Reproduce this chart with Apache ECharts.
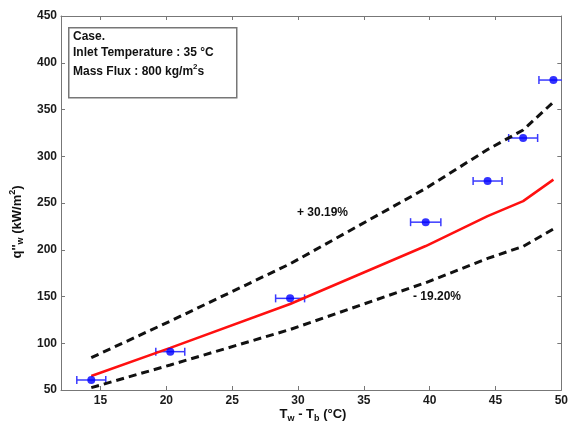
<!DOCTYPE html>
<html>
<head>
<meta charset="utf-8">
<script src="https://cdn.jsdelivr.net/npm/echarts@6/dist/echarts.min.js"></script>
<style>html,body{margin:0;padding:0;background:#fff;}#c{width:571px;height:423px;}</style>
</head>
<body>
<div id="c"></div>
<script>
// Data
const expX = [14.3, 20.3, 29.4, 39.7, 44.4, 47.1, 49.4];
const expY = [60.7, 91, 148, 229.5, 273.5, 319.5, 381.5];
const expErr = [1.1, 1.1, 1.1, 1.15, 1.1, 1.1, 1.1];
const predX = [14.3, 20.3, 29.4, 39.7, 44.4, 47.1, 49.4];
const predY = [65, 95, 142, 204, 236, 252, 275];
const upperY = [84.6, 123.7, 184.9, 265.6, 307.2, 328.1, 358.0];
const lowerY = [52.5, 76.8, 114.7, 164.8, 190.7, 203.6, 222.2];
const xTickValues = [15, 20, 25, 30, 35, 40, 45, 50];
const xRange = [12, 50];
const yTicks = {min: 50, max: 450, interval: 50};

const pairs = (xs, ys) => xs.map((x, i) => [x, ys[i]]);
const chart = echarts.init(document.getElementById('c'));
const font = 'Liberation Sans, Arial, sans-serif';
const labelStyle = {color: '#1a1a1a', fontWeight: 'bold', fontSize: 12, fontFamily: font};
const axisLine = {show: true, lineStyle: {color: '#777', width: 1}};
const tickIn = {show: true, inside: true, length: 4, lineStyle: {color: '#777'}};

chart.setOption({
  animation: false,
  backgroundColor: '#fff',
  grid: {left: 61, right: 5, top: 16, bottom: 33},
  xAxis: [
    {type: 'value', min: xRange[0], max: xRange[1], position: 'bottom',
     axisLine: axisLine, axisTick: Object.assign({customValues: xTickValues}, tickIn), splitLine: {show: false},
     axisLabel: Object.assign({margin: 5, customValues: xTickValues}, labelStyle)},
    {type: 'value', min: xRange[0], max: xRange[1], position: 'top',
     axisLine: axisLine, axisTick: Object.assign({customValues: xTickValues}, tickIn), splitLine: {show: false}, axisLabel: {show: false}}
  ],
  yAxis: [
    {type: 'value', min: yTicks.min, max: yTicks.max, interval: yTicks.interval, position: 'left',
     axisLine: axisLine, axisTick: tickIn, splitLine: {show: false},
     axisLabel: Object.assign({margin: 4}, labelStyle)},
    {type: 'value', min: yTicks.min, max: yTicks.max, interval: yTicks.interval, position: 'right',
     axisLine: axisLine, axisTick: tickIn, splitLine: {show: false}, axisLabel: {show: false}}
  ],
  series: [
    {type: 'line', data: pairs(predX, upperY), showSymbol: false, symbol: 'none',
     lineStyle: {color: '#111', width: 3, type: [8, 5]}},
    {type: 'line', data: pairs(predX, lowerY), showSymbol: false, symbol: 'none',
     lineStyle: {color: '#111', width: 3, type: [8, 5]}},
    {type: 'line', data: pairs(predX, predY), showSymbol: false, symbol: 'none',
     lineStyle: {color: '#ff1010', width: 2.5}},
    {type: 'custom', clip: true,
     data: expX.map((x, i) => [x - expErr[i], x + expErr[i], expY[i]]),
     renderItem: function (params, api) {
       const a = api.coord([api.value(0), api.value(2)]);
       const b = api.coord([api.value(1), api.value(2)]);
       const h = 4;
       const st = {stroke: '#3a3aff', lineWidth: 1.5};
       return {type: 'group', children: [
         {type: 'line', shape: {x1: a[0], y1: a[1], x2: b[0], y2: b[1]}, style: st},
         {type: 'line', shape: {x1: a[0], y1: a[1] - h, x2: a[0], y2: a[1] + h}, style: st},
         {type: 'line', shape: {x1: b[0], y1: b[1] - h, x2: b[0], y2: b[1] + h}, style: st}
       ]};
     }},
    {type: 'scatter', data: pairs(expX, expY), symbol: 'circle', symbolSize: 8,
     itemStyle: {color: '#0000ff'}, z: 5}
  ],
  graphic: [
    {type: 'rect', left: 68, top: 27, shape: {width: 168, height: 70},
     style: {fill: '#fff', stroke: '#777', lineWidth: 1.5}, z: 10},
    {type: 'text', left: 73, top: 31, z: 11,
     style: {text: 'Case.', font: 'bold 12px ' + font, fill: '#111'}},
    {type: 'text', left: 73, top: 47, z: 11,
     style: {text: 'Inlet Temperature : 35 °C', font: 'bold 12px ' + font, fill: '#111'}},
    {type: 'text', left: 73, top: 63, z: 11,
     style: {text: '{a|Mass Flux : 800 kg/m}{p|2}{a|s}', fill: '#111',
       rich: {a: {fontSize: 12, fontWeight: 'bold', fontFamily: font, lineHeight: 15, verticalAlign: 'bottom'},
              p: {fontSize: 8, fontWeight: 'bold', fontFamily: font, lineHeight: 8, verticalAlign: 'top'}}}},
    {type: 'text', x: 297, y: 213, z: 11,
     style: {text: '+ 30.19%', font: 'bold 12px ' + font, fill: '#111', verticalAlign: 'middle'}},
    {type: 'text', x: 413, y: 297, z: 11,
     style: {text: '- 19.20%', font: 'bold 12px ' + font, fill: '#111', verticalAlign: 'middle'}},
    {type: 'text', x: 313, y: 414, z: 11,
     style: {text: '{a|T}{s|w}{a| - T}{s|b}{a| (°C)}', align: 'center', verticalAlign: 'middle', fill: '#111',
       rich: {a: {fontSize: 13, fontWeight: 'bold', fontFamily: font, lineHeight: 18},
              s: {fontSize: 9, fontWeight: 'bold', fontFamily: font, lineHeight: 10, verticalAlign: 'bottom'}}}},
    {type: 'text', x: 17, y: 222, rotation: Math.PI / 2, z: 11,
     style: {text: "{a|q''}{s|w}{a| (kW/m}{p|2}{a|)}", align: 'center', verticalAlign: 'middle', fill: '#111',
       rich: {a: {fontSize: 13, fontWeight: 'bold', fontFamily: font, lineHeight: 17},
              s: {fontSize: 9, fontWeight: 'bold', fontFamily: font, lineHeight: 10, verticalAlign: 'bottom'},
              p: {fontSize: 9, fontWeight: 'bold', fontFamily: font, lineHeight: 9, verticalAlign: 'top'}}}}
  ]
});
</script>
</body>
</html>
